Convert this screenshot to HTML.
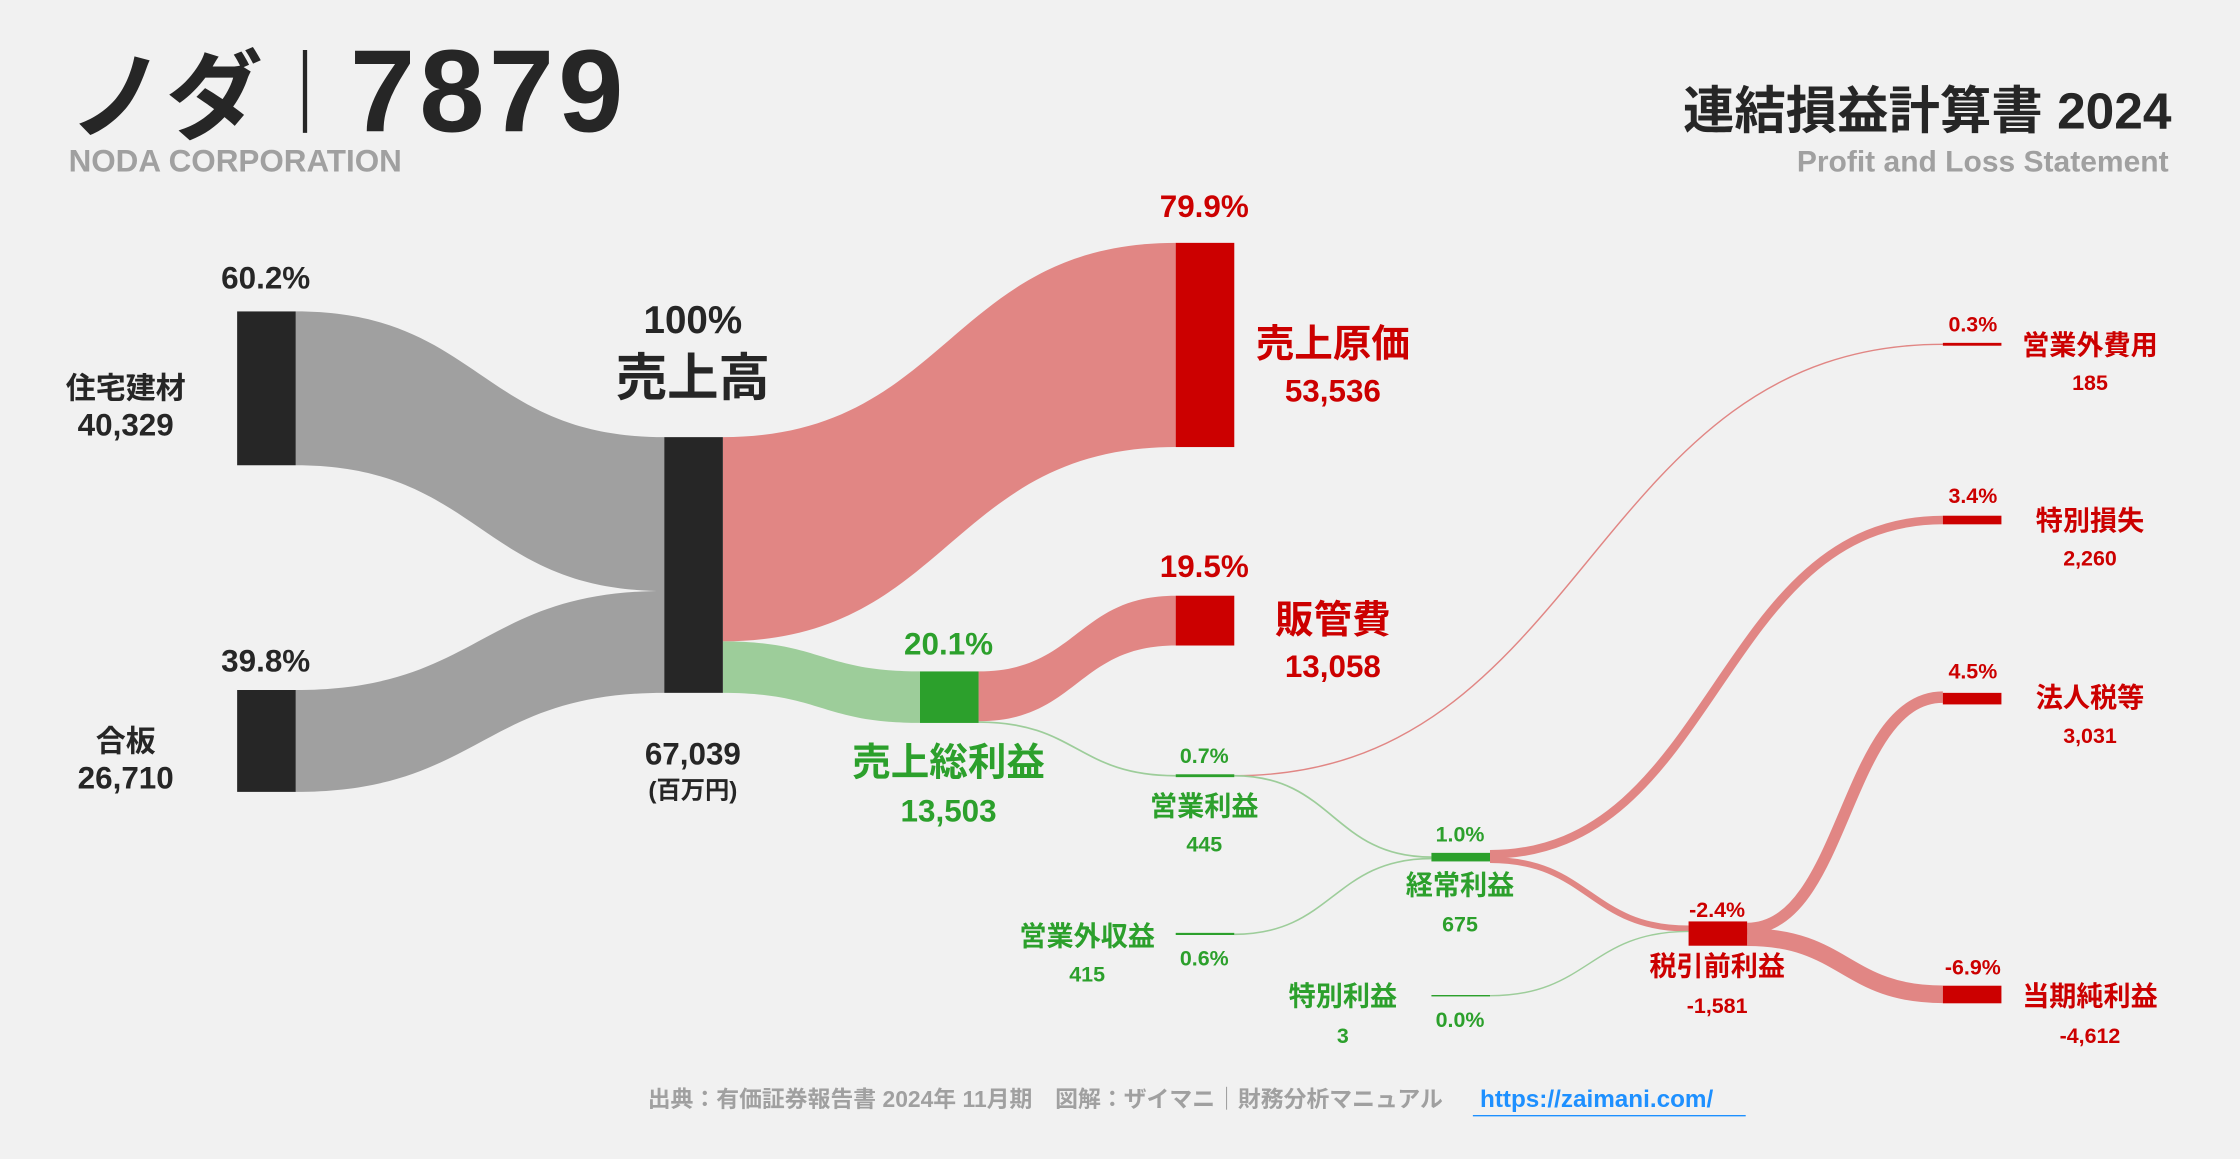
<!DOCTYPE html>
<html><head><meta charset="utf-8"><style>
html,body{margin:0;padding:0;background:#f1f1f1}
svg{display:block}
text{font-family:"Liberation Sans","Noto Sans CJK JP",sans-serif;font-weight:bold}
</style></head><body>
<svg width="2240" height="1159" viewBox="0 0 1568 811.3" xmlns="http://www.w3.org/2000/svg">
<rect width="1568" height="811.3" fill="#f1f1f1"/>
<g id="flows"></g>
<g id="nodes"></g>
<g>
<text x="48" y="92" font-size="68" fill="#262626">ノダ</text>
<rect x="212" y="35" width="3" height="58" fill="#262626"/>
<text x="245" y="92" font-size="82" fill="#262626" letter-spacing="3">7879</text>
<text x="48" y="120" font-size="22" fill="#a0a0a0">NODA CORPORATION</text>
<text x="1520" y="90" font-size="36" fill="#262626" text-anchor="end">連結損益計算書 2024</text>
<text x="1518" y="120" font-size="21" fill="#a0a0a0" text-anchor="end">Profit and Loss Statement</text>
</g>
<g id="labels">
<text x="186" y="202" font-size="22" fill="#262626" text-anchor="middle">60.2%</text>
<text x="88" y="279" font-size="21" fill="#262626" text-anchor="middle">住宅建材</text>
<text x="88" y="305" font-size="22" fill="#262626" text-anchor="middle">40,329</text>
<text x="186" y="470" font-size="22" fill="#262626" text-anchor="middle">39.8%</text>
<text x="88" y="526" font-size="21" fill="#262626" text-anchor="middle">合板</text>
<text x="88" y="552" font-size="22" fill="#262626" text-anchor="middle">26,710</text>
<text x="485" y="233" font-size="27" fill="#262626" text-anchor="middle">100%</text>
<text x="485" y="277" font-size="36" fill="#262626" text-anchor="middle">売上高</text>
<text x="485" y="535" font-size="22" fill="#262626" text-anchor="middle">67,039</text>
<text x="485" y="559" font-size="17" fill="#262626" text-anchor="middle">(百万円)</text>
<text x="843" y="152" font-size="22" fill="#cc0000" text-anchor="middle">79.9%</text>
<text x="933" y="250" font-size="27" fill="#cc0000" text-anchor="middle">売上原価</text>
<text x="933" y="281" font-size="22" fill="#cc0000" text-anchor="middle">53,536</text>
<text x="843" y="404" font-size="22" fill="#cc0000" text-anchor="middle">19.5%</text>
<text x="933" y="443" font-size="27" fill="#cc0000" text-anchor="middle">販管費</text>
<text x="933" y="474" font-size="22" fill="#cc0000" text-anchor="middle">13,058</text>
<text x="664" y="458" font-size="22" fill="#2ca02c" text-anchor="middle">20.1%</text>
<text x="664" y="543" font-size="27" fill="#2ca02c" text-anchor="middle">売上総利益</text>
<text x="664" y="575" font-size="22" fill="#2ca02c" text-anchor="middle">13,503</text>
<text x="843" y="534" font-size="15" fill="#2ca02c" text-anchor="middle">0.7%</text>
<text x="843" y="571" font-size="19" fill="#2ca02c" text-anchor="middle">営業利益</text>
<text x="843" y="596" font-size="15" fill="#2ca02c" text-anchor="middle">445</text>
<text x="761" y="662" font-size="19" fill="#2ca02c" text-anchor="middle">営業外収益</text>
<text x="761" y="687" font-size="15" fill="#2ca02c" text-anchor="middle">415</text>
<text x="843" y="676" font-size="15" fill="#2ca02c" text-anchor="middle">0.6%</text>
<text x="1022" y="589" font-size="15" fill="#2ca02c" text-anchor="middle">1.0%</text>
<text x="1022" y="626" font-size="19" fill="#2ca02c" text-anchor="middle">経常利益</text>
<text x="1022" y="652" font-size="15" fill="#2ca02c" text-anchor="middle">675</text>
<text x="940" y="704" font-size="19" fill="#2ca02c" text-anchor="middle">特別利益</text>
<text x="940" y="730" font-size="15" fill="#2ca02c" text-anchor="middle">3</text>
<text x="1022" y="719" font-size="15" fill="#2ca02c" text-anchor="middle">0.0%</text>
<text x="1202" y="642" font-size="15" fill="#cc0000" text-anchor="middle">-2.4%</text>
<text x="1202" y="683" font-size="19" fill="#cc0000" text-anchor="middle">税引前利益</text>
<text x="1202" y="709" font-size="15" fill="#cc0000" text-anchor="middle">-1,581</text>
<text x="1381" y="232" font-size="15" fill="#cc0000" text-anchor="middle">0.3%</text>
<text x="1463" y="248" font-size="19" fill="#cc0000" text-anchor="middle">営業外費用</text>
<text x="1463" y="273" font-size="15" fill="#cc0000" text-anchor="middle">185</text>
<text x="1381" y="352" font-size="15" fill="#cc0000" text-anchor="middle">3.4%</text>
<text x="1463" y="371" font-size="19" fill="#cc0000" text-anchor="middle">特別損失</text>
<text x="1463" y="396" font-size="15" fill="#cc0000" text-anchor="middle">2,260</text>
<text x="1381" y="475" font-size="15" fill="#cc0000" text-anchor="middle">4.5%</text>
<text x="1463" y="495" font-size="19" fill="#cc0000" text-anchor="middle">法人税等</text>
<text x="1463" y="520" font-size="15" fill="#cc0000" text-anchor="middle">3,031</text>
<text x="1381" y="682" font-size="15" fill="#cc0000" text-anchor="middle">-6.9%</text>
<text x="1463" y="704" font-size="19" fill="#cc0000" text-anchor="middle">当期純利益</text>
<text x="1463" y="730" font-size="15" fill="#cc0000" text-anchor="middle">-4,612</text>
</g>
<g>
<text x="1010" y="775" font-size="16" fill="#a0a0a0" text-anchor="end">出典：有価証券報告書 2024年 11月期　図解：ザイマニ｜財務分析マニュアル</text>
<text x="1036" y="775" font-size="17" fill="#1e90ff">https://zaimani.com/</text>
<line x1="1031" y1="781" x2="1222" y2="781" stroke="#1e90ff" stroke-width="1"/>
</g>
</svg>
<script>
const K = 0.00267;
// values (百万円)
const sourceNames = ['jutaku','goban'];
const sourceValues = [40329, 26710];
const sales = 67039;
const costNames = ['cogs','gross'];
const costValues = [53536, 13503];
const grossSplitValues = [13058, 445]; // sga, operating
const opValues = [185, 445];           // nonop expense, to ordinary
const nonopIncome = 415;
const ordinaryValues = [2260, 1581];   // special loss, to pretax
const specialGain = 3;
const pretaxValues = [3031, 4612];     // tax, net

const NS='http://www.w3.org/2000/svg';
const F=document.getElementById('flows'), N=document.getElementById('nodes');
function band(x0,y0,x1,y1,h,color,name){
  const p=document.createElementNS(NS,'path');
  const m=(x0+x1)/2;
  p.setAttribute('d',`M${x0},${y0}C${m},${y0} ${m},${y1} ${x1},${y1}L${x1},${y1+h}C${m},${y1+h} ${m},${y0+h} ${x0},${y0+h}Z`);
  p.setAttribute('fill',color);
  
  
  F.appendChild(p);
}
function line(x0,y0,x1,y1,v,color,name){
  const p=document.createElementNS(NS,'path');
  const m=(x0+x1)/2;
  p.setAttribute('d',`M${x0},${y0}C${m},${y0} ${m},${y1} ${x1},${y1}`);
  p.setAttribute('fill','none');p.setAttribute('stroke',color);
  p.setAttribute('stroke-width',Math.max(Math.abs(v)*K,1));
  
  
  F.appendChild(p);
}
function node(x,y,h,color,name){
  const r=document.createElementNS(NS,'rect');
  r.setAttribute('x',x);r.setAttribute('y',y);r.setAttribute('width',41);r.setAttribute('height',h);
  r.setAttribute('fill',color);
  
  
  N.appendChild(r);
}
const GRAY='#a0a0a0',DARK='#262626',RED='#cc0000',LRED='#e18684',GREEN='#2ca02c',LGREEN='#9dcd9a';
const srcTops=[218,483];
let cy=306;
sourceValues.forEach((v,i)=>{
  const h=v*K;
  band(207,srcTops[i],465,cy,h,GRAY,'flow-'+sourceNames[i]);
  node(166,srcTops[i],h,DARK,'node-'+sourceNames[i]);
  cy+=h;
});
node(465,306,sales*K,DARK,'node-sales');
const cogsH=costValues[0]*K, grossH=costValues[1]*K;
band(506,306,823,170,cogsH,LRED,'flow-cogs');
band(506,306+cogsH,644,470,grossH,LGREEN,'flow-gross');
node(823,170,cogsH,RED,'node-cogs');
const sgaH=grossSplitValues[0]*K, opH=grossSplitValues[1]*K;
band(685,470,823,417,sgaH,LRED,'flow-sga');
node(823,417,sgaH,RED,'node-sga');
line(685,470+sgaH+opH/2,823,543,grossSplitValues[1],LGREEN,'flow-operating');
node(644,470,grossH,GREEN,'node-gross');
line(864,543,1360,241,opValues[0],LRED,'flow-nonop-expense');
line(864,543,1002,600,opValues[1],LGREEN,'flow-op-to-ordinary');
line(864,654,1002,601,nonopIncome,LGREEN,'flow-nonop-income');
line(1043,598,1360,364,ordinaryValues[0],LRED,'flow-special-loss');
line(1043,602,1182,650,ordinaryValues[1],LRED,'flow-ordinary-to-pretax');
line(1043,697,1182,652,specialGain,LGREEN,'flow-special-gain');
line(1223,650,1360,488,pretaxValues[0],LRED,'flow-tax');
line(1223,656,1360,696,pretaxValues[1],LRED,'flow-net');
node(823,542,Math.max(opH,2),GREEN,'node-operating');
node(823,653,Math.max(nonopIncome*K,1.5),GREEN,'node-nonop-income');
node(1002,597,Math.max(675*K,6),GREEN,'node-ordinary');
node(1002,696.5,1,GREEN,'node-special-gain');
node(1182,645,17,RED,'node-pretax');
node(1360,240,Math.max(opValues[0]*K,2),RED,'node-nonop-expense');
node(1360,361,ordinaryValues[0]*K,RED,'node-special-loss');
node(1360,485,pretaxValues[0]*K,RED,'node-tax');
node(1360,690,pretaxValues[1]*K,RED,'node-net');
</script>
</body></html>
